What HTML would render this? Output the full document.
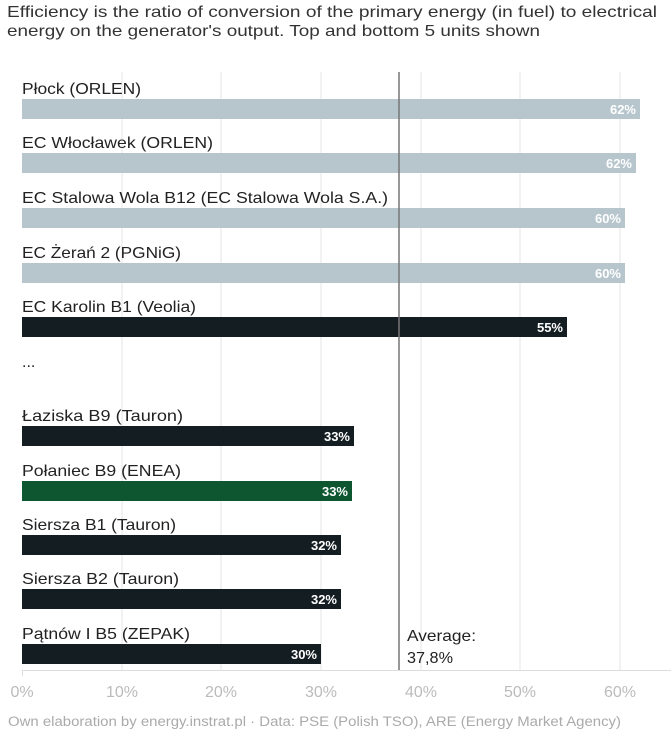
<!DOCTYPE html>
<html><head><style>
body{margin:0;background:#fff;width:671px;height:731px;overflow:hidden;font-family:"Liberation Sans",sans-serif}
</style></head><body>
<svg width="671" height="731" xmlns="http://www.w3.org/2000/svg" font-family="Liberation Sans, sans-serif">
<text x="7" y="17" font-size="16" fill="#333" textLength="650" lengthAdjust="spacingAndGlyphs">Efficiency is the ratio of conversion of the primary energy (in fuel) to electrical</text>
<text x="7" y="36" font-size="16" fill="#333" textLength="533" lengthAdjust="spacingAndGlyphs">energy on the generator's output. Top and bottom 5 units shown</text>
<g stroke="#e6e6e6" stroke-width="1">
<line x1="122" y1="72" x2="122" y2="670"/><line x1="221" y1="72" x2="221" y2="670"/><line x1="321" y1="72" x2="321" y2="670"/><line x1="421" y1="72" x2="421" y2="670"/><line x1="520" y1="72" x2="520" y2="670"/><line x1="620" y1="72" x2="620" y2="670"/>
</g>
<line x1="22" y1="670.5" x2="671" y2="670.5" stroke="#ddd"/>
<line x1="22.5" y1="670" x2="22.5" y2="676" stroke="#ddd"/>
<g font-size="16" fill="#222" lengthAdjust="spacingAndGlyphs">
<text x="22" y="94" textLength="119" lengthAdjust="spacingAndGlyphs">Płock (ORLEN)</text>
<text x="22" y="148" textLength="191" lengthAdjust="spacingAndGlyphs">EC Włocławek (ORLEN)</text>
<text x="22" y="203" textLength="366" lengthAdjust="spacingAndGlyphs">EC Stalowa Wola B12 (EC Stalowa Wola S.A.)</text>
<text x="22" y="258" textLength="159" lengthAdjust="spacingAndGlyphs">EC Żerań 2 (PGNiG)</text>
<text x="22" y="312" textLength="174" lengthAdjust="spacingAndGlyphs">EC Karolin B1 (Veolia)</text>
<text x="22" y="367">...</text>
<text x="22" y="421" textLength="161" lengthAdjust="spacingAndGlyphs">Łaziska B9 (Tauron)</text>
<text x="22" y="476" textLength="159" lengthAdjust="spacingAndGlyphs">Połaniec B9 (ENEA)</text>
<text x="22" y="530" textLength="154" lengthAdjust="spacingAndGlyphs">Siersza B1 (Tauron)</text>
<text x="22" y="584" textLength="157" lengthAdjust="spacingAndGlyphs">Siersza B2 (Tauron)</text>
<text x="22" y="639" textLength="168" lengthAdjust="spacingAndGlyphs">Pątnów I B5 (ZEPAK)</text>
</g>
<rect x="22" y="99" width="618" height="20" fill="#b7c6cd"/>
<rect x="22" y="153" width="614" height="20" fill="#b7c6cd"/>
<rect x="22" y="208" width="603" height="20" fill="#b7c6cd"/>
<rect x="22" y="263" width="603" height="20" fill="#b7c6cd"/>
<rect x="22" y="317" width="545" height="20" fill="#141d22"/>
<rect x="22" y="426" width="332" height="20" fill="#141d22"/>
<rect x="22" y="481" width="330" height="20" fill="#0d5630"/>
<rect x="22" y="535" width="319" height="20" fill="#141d22"/>
<rect x="22" y="589" width="319" height="20" fill="#141d22"/>
<rect x="22" y="644" width="299" height="20" fill="#141d22"/>
<g font-size="13" font-weight="bold" fill="#fff" text-anchor="end">
<text x="636" y="114">62%</text>
<text x="632" y="168">62%</text>
<text x="621" y="223">60%</text>
<text x="621" y="278">60%</text>
<text x="563" y="332">55%</text>
<text x="350" y="441">33%</text>
<text x="348" y="496">33%</text>
<text x="337" y="550">32%</text>
<text x="337" y="604">32%</text>
<text x="317" y="659">30%</text>
</g>
<line x1="399" y1="72" x2="399" y2="670" stroke="#777" stroke-width="1.5"/>
<text x="407" y="641" font-size="16" fill="#222" textLength="69" lengthAdjust="spacingAndGlyphs">Average:</text>
<text x="407" y="663" font-size="16" fill="#222" textLength="46" lengthAdjust="spacingAndGlyphs">37,8%</text>
<g font-size="16" fill="#bbb" text-anchor="middle">
<text x="22" y="697">0%</text><text x="122" y="697">10%</text><text x="221" y="697">20%</text><text x="321" y="697">30%</text><text x="421" y="697">40%</text><text x="520" y="697">50%</text><text x="620" y="697">60%</text>
</g>
<text x="8" y="726" font-size="13.5" fill="#aaa" textLength="613" lengthAdjust="spacingAndGlyphs">Own elaboration by energy.instrat.pl · Data: PSE (Polish TSO), ARE (Energy Market Agency)</text>
</svg>
</body></html>
